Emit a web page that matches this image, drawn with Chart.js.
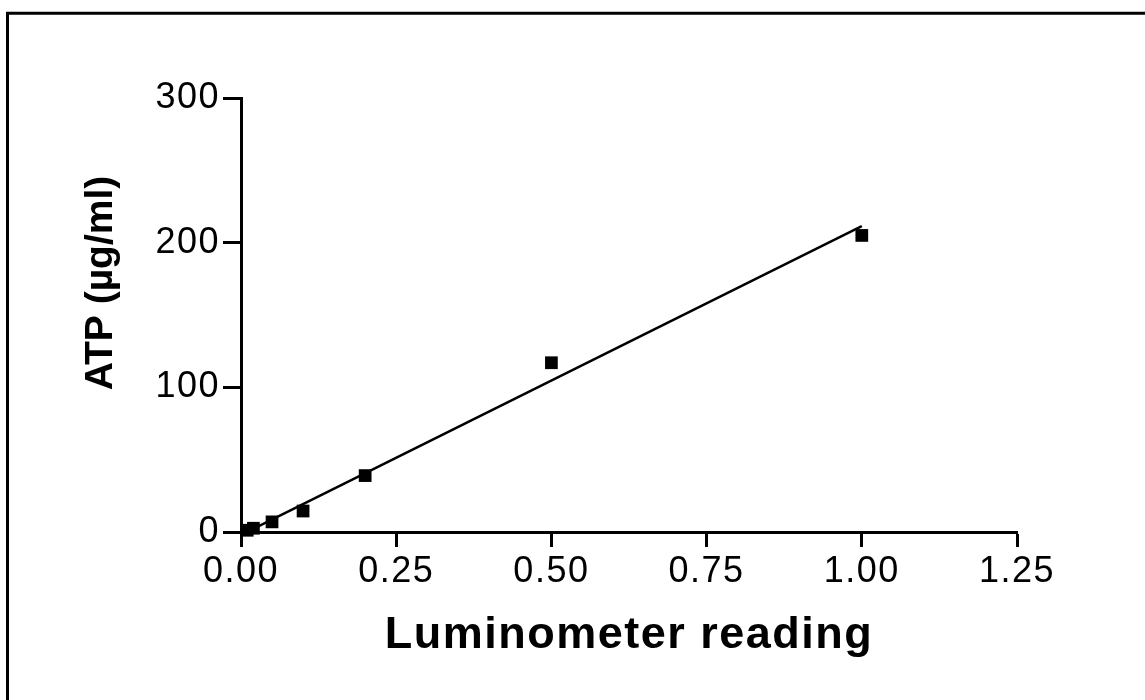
<!DOCTYPE html>
<html>
<head>
<meta charset="utf-8">
<script src="https://cdn.jsdelivr.net/npm/chart.js@4/dist/chart.umd.min.js"></script>
<style>
  html, body { margin: 0; padding: 0; background: #fff; }
  #wrap { width: 1145px; height: 700px; position: relative; }
</style>
</head>
<body>
<div id="wrap"><canvas id="c" width="1145" height="700"></canvas></div>
<script>
// Measured data (luminometer reading vs ATP concentration)
const readings = [0.01, 0.02, 0.05, 0.1, 0.2, 0.5, 1.0];
const atpValues = [1.2, 2.6, 7, 14.5, 39, 117, 205];
// Regression line endpoints
const fitX = [0.01, 1.0];
const fitY = [0.1, 211.5];
const xTitle = 'Luminometer reading';
const yTitle = 'ATP (\u00b5g/ml)';

const FONT = 'Arial, "Liberation Sans", sans-serif';

const points = readings.map((x, i) => ({ x: x, y: atpValues[i] }));
const fit = fitX.map((x, i) => ({ x: x, y: fitY[i] }));

const framePlugin = {
  id: 'frame',
  beforeDraw(chart) {
    // the reference text is slightly wider than plain Arial
    if ('letterSpacing' in chart.ctx) chart.ctx.letterSpacing = '1.5px';
  },
  afterDraw(chart) {
    const ctx = chart.ctx;
    ctx.save();
    if ('letterSpacing' in ctx) ctx.letterSpacing = '0px';
    ctx.strokeStyle = '#000';
    ctx.lineWidth = 3;
    ctx.beginPath();
    ctx.moveTo(7.5, 700);
    ctx.lineTo(7.5, 13.3);
    ctx.lineTo(1145, 13.3);
    ctx.stroke();
    // rotated y-axis title
    ctx.fillStyle = '#000';
    ctx.font = 'bold 39px ' + FONT;
    ctx.textAlign = 'center';
    ctx.textBaseline = 'alphabetic';
    ctx.translate(112, 283);
    ctx.rotate(-Math.PI / 2);
    ctx.fillText(yTitle, 0, 0);
    ctx.restore();
  }
};

new Chart(document.getElementById('c'), {
  type: 'scatter',
  data: {
    datasets: [
      {
        label: 'data',
        data: points,
        pointStyle: 'rect',
        pointRadius: 9,
        pointHoverRadius: 9,
        backgroundColor: '#000',
        borderColor: '#000',
        borderWidth: 0,
        showLine: false,
        clip: false,
        order: 0
      },
      {
        label: 'fit',
        data: fit,
        showLine: true,
        pointRadius: 0,
        borderColor: '#000',
        borderWidth: 2.5,
        fill: false,
        clip: false,
        order: 1
      }
    ]
  },
  options: {
    responsive: false,
    animation: false,
    events: [],
    layout: { padding: { left: 0, right: 128, top: 98, bottom: 0 } },
    plugins: { legend: { display: false }, tooltip: { enabled: false } },
    scales: {
      x: {
        type: 'linear',
        min: 0, max: 1.25,
        afterFit(s) { s.height = 168; s.paddingLeft = 0; s.paddingRight = 0; },
        border: { display: true, color: '#000', width: 3 },
        grid: { drawOnChartArea: false, drawTicks: true, tickLength: 15, tickWidth: 3, tickColor: '#000' },
        ticks: {
          stepSize: 0.25,
          color: '#000',
          padding: 3,
          maxRotation: 0,
          font: { family: FONT, size: 36 },
          callback: (v) => Number(v).toFixed(2)
        },
        title: {
          display: true,
          text: xTitle,
          color: '#000',
          font: { family: FONT, size: 45, weight: 'bold' },
          padding: { top: 0, bottom: 37 }
        }
      },
      y: {
        type: 'linear',
        min: 0, max: 300,
        afterFit(s) { s.width = 241; s.paddingTop = 0; s.paddingBottom = 0; },
        border: { display: true, color: '#000', width: 3 },
        grid: { drawOnChartArea: false, drawTicks: true, tickLength: 18, tickWidth: 3, tickColor: '#000' },
        ticks: {
          stepSize: 100,
          color: '#000',
          padding: 3,
          font: { family: FONT, size: 36 }
        },
        title: { display: false }
      }
    }
  },
  plugins: [framePlugin]
});
</script>
</body>
</html>
